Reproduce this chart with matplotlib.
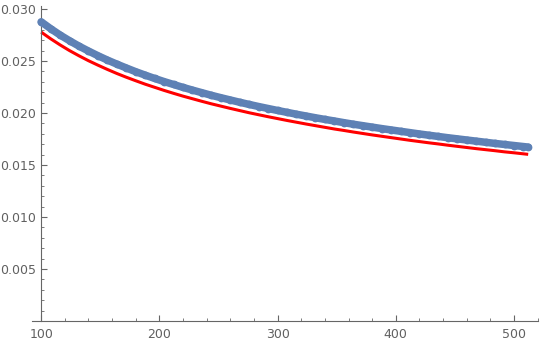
import matplotlib
matplotlib.use("Agg")
import matplotlib.pyplot as plt
from matplotlib.ticker import MultipleLocator, FixedLocator

x_vals = [100, 108, 116, 124, 132, 140, 148, 156, 164, 172, 180, 188, 196, 204,
          212, 220, 228, 236, 244, 252, 260, 268, 276, 284, 292, 300, 308, 316,
          324, 332, 340, 348, 356, 364, 372, 380, 388, 396, 404, 412, 420, 428,
          436, 444, 452, 460, 468, 476, 484, 492, 500, 508, 512]

blue_points = [0.02878, 0.02812, 0.02751, 0.02696, 0.02644, 0.02597, 0.02552,
               0.02510, 0.02471, 0.02434, 0.02398, 0.02365, 0.02333, 0.02303,
               0.02275, 0.02247, 0.02221, 0.02196, 0.02171, 0.02148, 0.02126,
               0.02104, 0.02083, 0.02063, 0.02044, 0.02025, 0.02007, 0.01989,
               0.01972, 0.01955, 0.01939, 0.01924, 0.01908, 0.01893, 0.01879,
               0.01865, 0.01851, 0.01838, 0.01825, 0.01812, 0.01799, 0.01787,
               0.01775, 0.01763, 0.01752, 0.01741, 0.01730, 0.01719, 0.01708,
               0.01698, 0.01688, 0.01678, 0.01673]

red_curve = [0.02779, 0.02715, 0.02656, 0.02601, 0.02551, 0.02504, 0.02461,
             0.02420, 0.02381, 0.02345, 0.02311, 0.02278, 0.02248, 0.02218,
             0.02190, 0.02163, 0.02138, 0.02113, 0.02089, 0.02067, 0.02045,
             0.02024, 0.02003, 0.01984, 0.01965, 0.01947, 0.01929, 0.01912,
             0.01895, 0.01879, 0.01863, 0.01847, 0.01833, 0.01818, 0.01804,
             0.01790, 0.01777, 0.01764, 0.01751, 0.01738, 0.01726, 0.01714,
             0.01703, 0.01691, 0.01680, 0.01669, 0.01658, 0.01648, 0.01638,
             0.01627, 0.01618, 0.01608, 0.01603]

x_major = [100, 200, 300, 400, 500]
y_major = [0.005, 0.010, 0.015, 0.020, 0.025, 0.030]
y_labels = ["0.005", "0.010", "0.015", "0.020", "0.025", "0.030"]

blue = "#5E81B5"
axis_gray = "#666666"
label_gray = "#606060"

fig = plt.figure(figsize=(5.4, 3.45), dpi=100)
ax = fig.add_axes([31.7 / 540, 24 / 345, 506.3 / 540, 315 / 345])

ax.plot(x_vals, red_curve, color="red", lw=2.2, solid_capstyle="butt", zorder=2)
ax.plot(x_vals, blue_points, color=blue, lw=5.4, marker="o", markersize=5.6,
        markeredgewidth=0, solid_capstyle="round", zorder=3)

ax.set_xlim(92, 520.3)
ax.set_ylim(0, 0.0303)

for s in ["top", "right"]:
    ax.spines[s].set_visible(False)
ax.spines["left"].set_position(("data", 100))
ax.spines["bottom"].set_position(("data", 0))
for s in ["left", "bottom"]:
    ax.spines[s].set_color(axis_gray)
    ax.spines[s].set_linewidth(0.8)

ax.xaxis.set_major_locator(FixedLocator(x_major))
ax.xaxis.set_minor_locator(MultipleLocator(20))
ax.yaxis.set_major_locator(FixedLocator(y_major))
ax.set_yticklabels(y_labels)
ax.yaxis.set_minor_locator(MultipleLocator(0.001))

ax.tick_params(which="both", direction="in", colors=axis_gray, labelcolor=label_gray,
               labelsize=9)
ax.tick_params(which="major", length=4, width=0.8)
ax.tick_params(which="minor", length=2.2, width=0.6)
ax.tick_params(axis="x", which="major", pad=5)
ax.tick_params(axis="y", which="major", pad=3.5)

fig.savefig("out.png", dpi=100)
